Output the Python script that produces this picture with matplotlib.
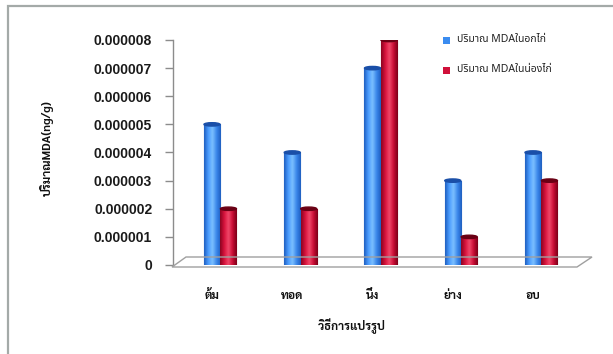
import matplotlib
matplotlib.use("Agg")
import matplotlib.pyplot as plt
import numpy as np
from matplotlib.patches import Polygon, Rectangle, Ellipse
from matplotlib.colors import LinearSegmentedColormap

categories = ["ต้ม", "ทอด", "นึ่ง", "ย่าง", "อบ"]
breast = [0.000005, 0.000004, 0.000007, 0.000003, 0.000004]
drumstick = [0.000002, 0.000002, 0.000008, 0.000001, 0.000003]
series_names = ["ปริมาณ MDAในอกไก่", "ปริมาณ MDAในน่องไก่"]
yticks = [0, 0.000001, 0.000002, 0.000003, 0.000004, 0.000005, 0.000006, 0.000007, 0.000008]
ytick_labels = ["0", "0.000001", "0.000002", "0.000003", "0.000004", "0.000005", "0.000006", "0.000007", "0.000008"]
xlabel = "วิธีการแปรรูป"
ylabel = "ปริมาณMDA(ng/g)"

THAI = ["Sarabun", "Noto Sans Thai", "DejaVu Sans"]
THAI_REG = ["Noto Sans Thai", "DejaVu Sans"]
W, H = 613, 354
fig = plt.figure(figsize=(W / 100, H / 100), dpi=100)
fig.patch.set_facecolor("white")

# outer frame (only left/top visible)
fig.add_artist(Rectangle((8 / W, -0.05), 1.2, (H - 6) / H + 0.05, transform=fig.transFigure,
                         fill=False, edgecolor="#a4aaa8", lw=1.6))

left, right = 173 / W, 577 / W
bottom, top = (H - 265) / H, (H - 40) / H
ax = fig.add_axes([left, bottom, right - left, top - bottom])
ax.set_facecolor("none")
x = np.arange(len(categories))

for s in ["top", "right", "bottom"]:
    ax.spines[s].set_visible(False)
ax.spines["left"].set_color("#8c8c8c")
ax.spines["left"].set_linewidth(1.0)

ax.set_yticks(yticks)
ax.set_yticklabels(ytick_labels, fontsize=10, fontweight="bold", family=["Liberation Sans", "DejaVu Sans"], color="#1a1a1a")
ax.tick_params(axis="y", direction="out", length=6, width=1, color="#8c8c8c", pad=9)
ax.set_xticks(x)
ax.set_xticklabels(categories, fontsize=8.5, fontweight="bold", family=THAI, color="#111111")
ax.tick_params(axis="x", length=0, pad=18)

# floor
floor = Polygon([(172 / W, (H - 267) / H), (577 / W, (H - 267) / H),
                 (592 / W, (H - 257) / H), (186 / W, (H - 257) / H)],
                closed=True, transform=fig.transFigure, fill=False,
                edgecolor="#a0a0a0", lw=1.0)
fig.add_artist(floor)

bw = 0.2
blue_cmap = LinearSegmentedColormap.from_list("b", ["#1f5fc0", "#4a9cff", "#7cc0ff", "#3a86ea", "#1f5fc0"])
red_cmap = LinearSegmentedColormap.from_list("r", ["#8a0420", "#d8123c", "#f0486a", "#c80c34", "#7a0018"])
grad = np.linspace(0, 1, 64).reshape(1, -1)

def draw(xs, vals, cmap, face, edge, label):
    bars = ax.bar(xs, vals, width=bw, color=face, edgecolor=edge, linewidth=0.8, label=label, zorder=3)
    for b in bars:
        x0, w, h = b.get_x(), b.get_width(), b.get_height()
        im = ax.imshow(grad, extent=[x0, x0 + w, 0, h], aspect="auto", cmap=cmap, zorder=3.5,
                       interpolation="bicubic")
        im.set_clip_path(b)
        ax.add_patch(Ellipse((x0 + w / 2, h), w, 0.00000012, facecolor=edge, edgecolor=edge, zorder=4))
    return bars

draw(x, breast, blue_cmap, "#3a8cf0", "#1a4fa8", series_names[0])
draw(x + 0.205, drumstick, red_cmap, "#d0103a", "#6a0014", series_names[1])
ax.set_xlim((173 - 212) / 80.25, (577 - 212) / 80.25)
ax.set_ylim(0, 0.000008)

# legend
for i, (name, col) in enumerate(zip(series_names, ["#3a8cf0", "#d0103a"])):
    yy = (H - 40 - 30 * i) / H
    fig.add_artist(Rectangle((443 / W, yy - 3.5 / H), 7 / W, 7 / H, transform=fig.transFigure,
                             facecolor=col, edgecolor="none"))
    fig.text(457 / W, yy, name, fontsize=7.5, family=THAI_REG, color="#222222", va="center", ha="left")

fig.text(352 / W, (H - 326) / H, xlabel, fontsize=8.5, fontweight="bold", family=THAI,
         ha="center", va="center", color="#111111")
fig.text(47 / W, (H - 148) / H, ylabel, fontsize=8.5, fontweight="bold", family=THAI,
         ha="center", va="center", rotation=90, color="#111111")

fig.savefig("out.png", dpi=100, facecolor="white")
